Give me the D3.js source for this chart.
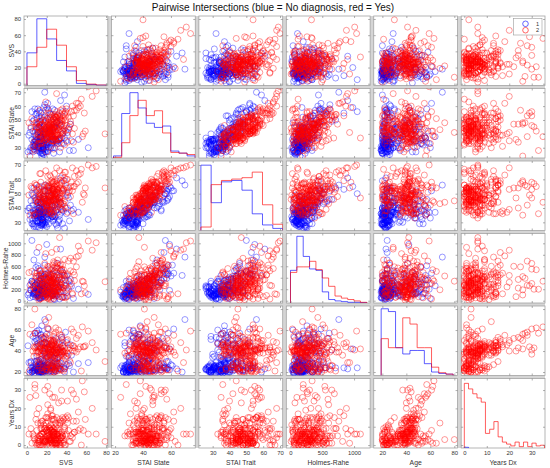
<!DOCTYPE html>
<html><head><meta charset="utf-8">
<script src="https://cdn.jsdelivr.net/npm/d3@7"></script>
<style>body{margin:0;background:#fff;}svg{display:block;font-family:"Liberation Sans",Arial,Helvetica,sans-serif;}</style>
</head><body><svg id="c" width="550" height="468"></svg>
<script>
const titleText = "Pairwise Intersections (blue = No diagnosis, red = Yes)";
const varNames = ["SVS","STAI State","STAI Trait","Holmes-Rahe","Age","Years Dx"];
const groupLabels = ["1","2"];
const xDomains = [[-3,81.8],[17.4,77.4],[21.8,71.6],[-66,1253],[12.8,82.7],[-1.4,35.9]];
const yDomains = [[-2.2,83.7],[22.6,72.7],[24.3,72.8],[-40,1171],[16.7,82.9],[-1.6,36.3]];
const xTicks = [[0,20,40,60,80],[20,40,60],[30,40,50,60,70],[0,500,1000],[20,40,60,80],[0,10,20,30]];
const yTicks = [[0,20,40,60,80],[30,40,50,60,70],[30,40,50,60,70],[0,200,400,600,800,1000],[20,40,60,80],[0,10,20,30]];

// diagonal histograms (relative bar heights)
const svsEdges = [0,10,20,30,40,50,60,70,80];
const svsHistBlue = [47,96,67,36,21,3,1.5,0.5];
const svsHistRed = [27,55,81,58,27,7,2,0.7];
const stateEdges = [18.9,24.75,30.6,36.45,42.3,48.15,54,59.85,65.7,71.55,77.4];
const stateHistBlue = [3,64,94,72,50,44,46,10,7,3];
const stateHistRed = [1,22,61,83,61,68,36,8,7,5];
const traitEdges = [23,29.1,35.2,41.3,47.4,53.5,59.6,65.7,71.6];
const traitHistBlue = [94,40,70,72,58,24,8,3];
const traitHistRed = [5,66,72,74,76,84,37,9];
const hrEdges = [0,100,200,300,400,500,600,700,800,900,1000,1100,1200];
const hrHistBlue = [47,96,67,49,47,16,5,3,2,1,1,0.5];
const hrHistRed = [44,52,52,60,48,36,24,10,7,5,3,1];
const ageEdges = [19,25,31,37,43,49,55,61,67,73,79];
const ageHistBlue = [96,92,40,31,36,36,17,5,3,2];
const ageHistRed = [53,40,40,83,74,40,40,12,4,2];
const yrsEdges = [0,1.88,3.76,5.64,7.52,9.4,11.28,13.16,15.04,16.92,18.8,20.68,22.56,24.44,26.32,28.2,30.08,31.96,33.84,35.72];
const yrsHistBlue = [1];
const yrsHistRed = [93,85,78,72,66,21,27,38,16,8.5,5.6,3,8.5,2,8.5,2,7,3,4];

// group 1 (blue, no diagnosis)
const blueSVS = [15,20,41,5,18,22,12,35,9,28,
16,33,13,14,2,11,25,17,30,8,
27,15,36,10,13,19,44,6,12,21,
38,7,19,16,4,18,29,12,11,24,
13,17,47,11,31,14,3,26,15,20,
16,32,10,8,14,26,12,18,22,6,
9,28,13,19,1,24,14,12,39,16,
18,10,29,17,22,11,5,21,62,38,
20,25,3,15,7,12,23,40,14,16,
52,14,24,12,30,15,19,8,17,11,
21,30,15,9,13,27,16,18,34,4,
7,43,11,19,10,13,35,12,26,15,
14,11,32,22,16,9,20,13,33,18,
16,10,37,14,17,21,6,45,12,23,
31,17,19,12,25,15,28,18,8,14,
12,26,18,7,33,15,21,9,24,17,
19,5,28,14,11,36,16,23,13,20,
8,17,22,31,14,27,12,19,40,10,
25,13,6,18,29,21,15,34,11,16,
14,22,30,9,17,12,26,20,8,42];
const blueState = [28,34,41,36,52,30,45,33,38,57,
31,27,35,44,39,58,32,29,48,36,
26,33,40,55,35,30,47,42,34,62,
37,29,32,50,44,27,36,56,31,39,
34,45,28,33,53,38,41,30,35,59,
26,36,43,31,49,34,28,40,57,32,
35,30,46,38,27,54,33,37,42,29,
32,51,36,25,39,34,56,45,30,68,
40,33,28,37,50,31,44,35,55,26,
36,42,30,47,34,38,29,58,33,41,
27,35,52,32,39,45,31,36,64,30,
34,28,40,57,33,48,37,30,43,24,
38,31,35,46,29,54,32,41,36,70,
30,44,33,37,59,28,49,35,31,42,
33,39,27,53,36,30,45,61,34,38,
29,36,42,31,47,26,34,39,52,33,
35,28,44,38,30,56,32,41,27,37,
31,40,34,49,29,36,45,33,60,28,
38,30,27,43,35,51,31,46,36,40,
26,33,48,35,41,30,58,37,32,44];
const blueTrait = [32,27,49,29,52,35,35,39,39,50,
29,32,37,41,40,46,37,28,48,33,
35,29,29,53,30,35,42,42,38,52,
26,36,37,40,45,29,34,55,36,39,
35,43,39,31,39,38,40,34,28,55,
30,31,42,37,47,34,36,40,52,29,
27,34,44,38,38,44,36,40,40,30,
37,41,29,31,44,37,50,44,32,59,
34,34,32,32,54,40,36,36,44,30,
37,34,33,48,28,37,36,47,34,33,
32,39,43,35,37,45,33,30,61,37,
28,31,44,45,37,40,37,40,34,28,
42,36,30,48,31,45,38,37,35,56,
32,35,38,35,48,36,49,38,36,39,
26,41,33,38,41,33,42,52,36,43,
34,31,47,27,44,29,39,35,48,38,
30,33,40,44,27,50,36,38,31,41,
36,37,29,46,33,32,49,28,54,31,
42,26,31,39,38,45,35,43,30,36,
28,37,44,31,46,33,53,40,29,47];
const blueHR = [120,250,80,340,460,150,190,60,280,520,
170,30,210,390,130,610,90,240,450,160,
110,300,180,840,50,140,370,220,100,480,
260,140,70,410,190,120,330,560,150,230,
180,430,40,200,350,130,270,110,160,980,
90,210,310,140,470,170,60,250,390,120,
150,20,280,180,100,540,130,200,360,170,
230,320,140,80,420,190,1050,260,110,440,
160,120,50,300,710,180,240,140,390,70,
200,150,330,170,90,260,130,480,210,120,
140,280,190,60,350,160,220,100,900,180,
110,250,130,460,200,40,300,170,380,150,
190,90,230,140,270,580,120,340,160,760,
130,210,70,440,180,150,320,250,100,190,
240,160,120,360,140,200,80,620,270,170,
180,90,270,130,420,60,240,150,310,200,
110,340,160,50,230,500,140,190,80,370,
260,120,200,650,170,30,290,140,430,100,
150,210,70,380,120,250,180,520,90,160,
230,140,310,100,190,40,460,270,130,350];
const blueAge = [22,24,35,20,48,27,21,53,23,30,
19,26,44,22,29,57,21,25,38,23,
20,28,51,24,22,33,46,21,27,61,
23,19,25,40,30,22,52,24,21,36,
26,47,20,23,28,55,22,34,25,42,
21,24,30,49,22,26,19,39,23,54,
25,22,28,21,45,24,32,20,58,27,
23,50,21,26,35,22,24,43,29,20,
22,27,19,53,24,31,21,48,25,23,
28,20,41,22,26,64,23,30,21,47,
24,33,22,27,20,50,25,37,23,29,
21,26,45,23,59,22,28,20,39,24,
27,22,34,21,25,52,23,29,46,70,
20,31,24,56,22,27,21,36,25,44,
23,25,48,22,29,21,33,26,57,24,
21,25,38,22,29,20,47,23,26,52,
24,20,33,27,22,45,21,28,23,56,
22,30,20,41,25,23,51,21,27,35,
26,22,24,48,21,29,20,39,22,31,
20,23,43,25,21,60,24,34,22,28];

// group 2 (red, diagnosis)
const redSVS = [14,28,37,22,11,50,79,33,26,18,
19,31,8,18,27,4,21,50,35,24,
29,15,23,33,56,38,6,42,26,20,
30,24,36,58,13,28,25,66,9,32,
46,22,16,27,10,34,30,19,28,24,
21,18,39,14,8,31,26,7,36,70,
33,20,12,27,29,23,52,17,38,2,
11,26,35,22,16,41,28,25,48,19,
37,24,13,30,21,57,8,26,15,33,
18,29,23,34,12,27,40,22,5,31,
32,17,25,20,44,28,14,23,30,59,
26,21,29,35,24,13,16,39,27,19,
31,10,22,18,28,43,24,33,20,9,
15,34,27,25,37,21,29,30,47,14,
36,23,26,16,19,32,30,11,25,62,
28,20,34,22,13,41,25,17,27,35,
24,30,9,28,21,33,15,38,23,26,
42,27,18,31,25,12,46,22,34,20,
19,36,29,3,31,24,27,55,23,14,
25,18,33,29,21,12,38,27,44,20,
31,23,16,40,26,35,19,10,28,47,
22,34,20,13,52,27,30,24,36,7,
17,41,28,23,15,32,26,21,45,29,
12,27,39,24,30,19,14,35,22,54,
33,21,26,48,16,24,37,29,11,25];
const redState = [42,38,51,46,33,57,40,48,35,44,
49,36,41,53,29,45,39,62,43,50,
34,47,40,55,38,44,31,52,42,37,
46,41,58,55,49,43,39,67,45,33,
40,52,37,44,48,30,56,41,47,38,
43,35,50,39,45,54,42,34,49,71,
37,46,41,51,36,43,59,40,32,48,
45,39,53,42,47,34,50,38,44,63,
41,49,36,45,55,40,28,52,43,37,
48,42,38,57,44,35,46,41,51,39,
36,50,43,40,47,53,33,45,69,42,
44,38,52,46,31,49,41,56,37,43,
39,47,42,35,54,45,40,50,27,48,
46,41,37,53,43,58,39,44,34,51,
42,55,48,38,45,36,52,40,47,74,
35,43,50,41,57,39,46,33,44,49,
47,40,36,52,42,48,30,54,45,38,
43,51,39,46,35,41,60,48,37,44,
50,42,45,24,53,40,47,65,38,46,
44,37,52,41,47,33,55,40,49,36,
39,46,42,58,35,50,43,31,45,53,
48,41,36,44,62,38,51,45,40,29,
42,55,39,47,34,43,50,37,56,46,
36,45,53,40,49,42,33,47,44,60,
51,38,43,57,41,35,46,52,39,44];
const redTrait = [53,35,59,37,44,57,54,47,42,46,
46,49,45,53,38,55,38,66,42,62,
46,46,42,66,44,45,38,51,52,36,
46,49,63,49,50,55,42,68,51,42,
52,52,48,53,46,40,59,38,59,45,
42,44,48,49,57,53,48,35,52,69,
45,45,53,52,43,54,58,52,41,49,
44,50,53,54,48,40,58,36,55,66,
53,51,47,44,62,50,36,46,45,47,
46,50,42,59,46,46,51,56,54,41,
47,49,54,45,48,55,44,45,68,54,
53,46,51,47,38,48,50,65,46,43,
37,56,44,46,64,52,37,51,41,56,
55,39,48,59,43,57,45,57,36,64,
39,63,58,38,56,43,54,52,49,70,
49,42,48,55,64,37,57,47,41,58,
45,51,48,53,55,56,33,65,47,50,
54,47,46,60,36,54,68,44,44,42,
52,52,46,35,53,50,58,67,37,58,
49,43,50,47,54,38,61,37,55,44,
46,49,51,60,39,57,42,36,52,55,
55,44,42,51,63,45,53,48,43,35,
41,60,46,49,40,52,57,44,58,48,
42,53,56,47,51,45,37,54,50,64,
54,46,40,62,48,39,53,56,44,51];
const redHR = [320,150,480,60,270,590,330,410,90,220,
530,180,340,650,40,290,120,760,380,450,
210,370,80,560,340,430,250,690,310,170,
400,20,620,260,510,110,350,880,190,300,
130,470,240,360,70,280,580,160,420,330,
250,390,50,520,200,710,140,300,450,1010,
360,100,440,230,600,170,950,280,60,490,
180,310,540,30,380,220,660,120,350,820,
440,260,150,570,90,330,200,480,290,1100,
380,130,270,630,10,420,190,350,510,240,
70,290,460,160,740,310,230,400,900,140,
340,210,80,550,370,120,470,260,680,190,
280,430,170,50,520,330,240,610,110,390,
460,150,300,840,220,40,370,180,500,270,
230,560,100,320,410,190,650,80,350,1040,
160,390,270,590,30,450,210,340,130,480,
310,90,420,250,540,170,380,720,60,290,
200,490,140,360,270,930,110,430,240,320,
410,60,300,190,570,260,350,120,460,220,
290,140,450,220,600,80,370,190,520,260,
170,410,330,70,560,240,120,480,300,690,
360,220,100,530,780,150,280,430,60,240,
120,470,250,340,40,390,620,210,300,150,
430,190,310,90,500,270,160,370,230,870,
240,60,380,450,180,320,540,110,280,420];
const redAge = [38,22,45,41,29,52,30,36,24,43,
47,33,80,41,40,26,44,39,55,31,
42,21,37,49,63,23,40,46,28,35,
24,44,39,44,32,41,22,48,38,60,
45,27,53,20,40,36,43,23,50,39,
34,42,25,47,43,21,38,44,30,41,
56,23,40,35,46,28,42,52,37,20,
39,45,22,61,33,43,26,48,40,36,
21,50,41,38,27,44,57,24,46,42,
43,30,55,22,39,47,35,41,65,25,
40,48,23,36,43,20,52,38,29,45,
26,42,58,37,24,45,40,33,49,68,
44,21,39,54,41,31,46,23,38,57,
35,43,28,47,40,22,62,39,45,32,
48,24,42,37,53,41,26,44,36,59,
22,46,39,30,43,51,25,40,56,38,
41,27,44,35,62,23,47,39,31,50,
37,54,20,42,46,29,40,72,43,25,
45,39,24,56,33,41,48,21,37,43,
40,25,47,36,52,22,43,38,29,45,
33,44,21,50,39,41,27,46,36,58,
42,30,47,24,55,37,44,20,40,35,
46,38,23,43,41,28,49,35,61,39,
27,45,40,34,48,22,42,53,37,44,
39,31,46,43,24,50,36,41,26,47];
const redYrs = [5,7,14,1,3,25,2,11,4,9,
2,6,3,30,7,9,17,13,4,4,
1,6,9,3,35,10,6,15,3,8,
0,11,5,29,2,14,8,20,1,2,
6,4,1,5,8,12,15,2,26,3,
7,2,5,9,31,9,14,4,15,6,
5,3,20,5,12,2,8,2,0,6,
4,9,4,8,6,24,5,14,7,2,
2,3,5,1,13,8,33,7,13,6,
9,0,28,4,2,7,6,15,1,11,
23,11,1,8,5,3,6,4,6,14,
1,7,3,30,8,5,13,0,9,12,
6,0,3,2,8,2,19,1,5,27,
4,2,7,16,1,7,1,6,13,0,
5,9,26,3,15,7,1,12,4,6,
1,8,0,5,3,16,10,7,2,6,
2,4,14,1,32,0,6,9,3,0,
8,5,2,3,7,1,4,3,13,0,
9,1,3,26,5,2,14,0,6,12,
3,1,12,6,22,0,8,4,2,15,
5,9,2,14,1,7,3,17,6,28,
10,4,1,0,18,6,2,3,13,5,
7,12,2,4,9,1,16,5,30,3,
2,6,15,8,1,3,11,24,4,9,
14,2,5,7,0,20,3,10,1,8];

const groups = [
  {vals:[blueSVS,blueState,blueTrait,blueHR,blueAge,null], color:"#0000ff"},
  {vals:[redSVS,redState,redTrait,redHR,redAge,redYrs], color:"#ff0000"}
];
const hists = [
  {edges:svsEdges, h:[svsHistBlue, svsHistRed]},
  {edges:stateEdges, h:[stateHistBlue, stateHistRed]},
  {edges:traitEdges, h:[traitHistBlue, traitHistRed]},
  {edges:hrEdges, h:[hrHistBlue, hrHistRed]},
  {edges:ageEdges, h:[ageHistBlue, ageHistRed]},
  {edges:yrsEdges, h:[yrsHistBlue, yrsHistRed]}
];

const W=550,H=468;
const gridL=24, gridR=545, gridT=16, gridB=448, gapX=3.6, gapY=3;
const pw=(gridR-gridL-5*gapX)/6, ph=(gridB-gridT-5*gapY)/6;
const svg=d3.select("#c");
svg.append("rect").attr("width",W).attr("height",H).attr("fill","#fff");
svg.append("rect").attr("x",gridL).attr("y",gridT).attr("width",gridR-gridL).attr("height",gridB-gridT).attr("fill","#d5d5d5");
const defs=svg.append("defs");
const textCol="#333";

function styleAxis(g){
  g.select(".domain").remove();
  g.selectAll("line").attr("stroke","#7a7a7a").attr("stroke-width",0.6);
  g.selectAll("text").attr("fill",textCol).attr("font-size",5.9);
  g.attr("font-family",null).attr("font-size",null);
}

for(let i=0;i<6;i++){
  for(let j=0;j<6;j++){
    const x0=gridL+j*(pw+gapX), y0=gridT+i*(ph+gapY);
    const x=d3.scaleLinear().domain(xDomains[j]).range([x0,x0+pw]);
    const y=d3.scaleLinear().domain(yDomains[i]).range([y0+ph,y0]);
    svg.append("rect").attr("x",x0).attr("y",y0).attr("width",pw).attr("height",ph)
      .attr("fill","#fff").attr("stroke","#a3a3a3").attr("stroke-width",0.8);
    const cid="cp"+i+"_"+j;
    defs.append("clipPath").attr("id",cid).append("rect").attr("x",x0).attr("y",y0).attr("width",pw).attr("height",ph);
    const g=svg.append("g").attr("clip-path","url(#"+cid+")");
    if(i===j){
      const hy=d3.scaleLinear().domain([0,100]).range([y0+ph,y0]);
      const e=hists[j].edges;
      hists[j].h.forEach((hv,gi)=>{
        const pts=[[e[0],0]];
        hv.forEach((v,k)=>{pts.push([e[k],v]);pts.push([e[k+1],v]);});
        pts.push([e[hv.length],0]);
        const line=d3.line().x(d=>x(d[0])).y(d=>hy(d[1]));
        g.append("path").attr("d",line(pts)).attr("fill","none")
          .attr("stroke",groups[gi].color).attr("stroke-width",0.9).attr("stroke-opacity",0.7);
      });
    } else {
      groups.forEach(gr=>{
        const xs=gr.vals[j], ys=gr.vals[i];
        if(!xs||!ys) return;
        const pts=xs.map((v,k)=>[v,ys[k]]);
        g.selectAll(null).data(pts).enter().append("circle")
          .attr("cx",d=>x(d[0])).attr("cy",d=>y(d[1])).attr("r",3.0)
          .attr("fill","none").attr("stroke",gr.color).attr("stroke-width",0.5).attr("stroke-opacity",0.8);
      });
    }
    const ab=svg.append("g").attr("transform",`translate(0,${y0+ph})`)
      .call(d3.axisBottom(x).tickValues(xTicks[j]).tickSize(-2).tickPadding(2.4).tickFormat(i===5?d3.format("d"):()=>""));
    styleAxis(ab);
    const at=svg.append("g").attr("transform",`translate(0,${y0})`)
      .call(d3.axisTop(x).tickValues(xTicks[j]).tickSize(-2).tickFormat(()=>""));
    styleAxis(at);
    const al=svg.append("g").attr("transform",`translate(${x0},0)`)
      .call(d3.axisLeft(y).tickValues(yTicks[i]).tickSize(-2).tickPadding(3).tickFormat(j===0?d3.format("d"):()=>""));
    styleAxis(al);
    const ar=svg.append("g").attr("transform",`translate(${x0+pw},0)`)
      .call(d3.axisRight(y).tickValues(yTicks[i]).tickSize(-2).tickFormat(()=>""));
    styleAxis(ar);
    if(i===5){
      svg.append("text").attr("x",x0+pw/2).attr("y",464.5).attr("text-anchor","middle")
        .attr("font-size",6.8).attr("fill",textCol).text(varNames[j]);
    }
    if(j===0){
      const lx = i===3 ? 7.5 : 13.5;
      svg.append("text").attr("transform",`translate(${lx},${y0+ph/2}) rotate(-90)`).attr("text-anchor","middle")
        .attr("font-size",6.8).attr("fill",textCol).text(varNames[i]);
    }
  }
}

// legend in top-right panel
const lg=svg.append("g");
lg.append("rect").attr("x",513.5).attr("y",18.5).attr("width",28.5).attr("height",16.5)
  .attr("fill","#fff").attr("stroke","#9a9a9a").attr("stroke-width",0.6);
groups.forEach((gr,k)=>{
  const yy=23.8+k*6.4;
  lg.append("circle").attr("cx",525.5).attr("cy",yy).attr("r",2.8).attr("fill","none")
    .attr("stroke",gr.color).attr("stroke-width",0.6);
  lg.append("text").attr("x",537.5).attr("y",yy+2).attr("text-anchor","middle")
    .attr("font-size",5.6).attr("fill",textCol).text(groupLabels[k]);
});

svg.append("text").attr("x",273).attr("y",10.5).attr("text-anchor","middle")
  .attr("font-size",10).attr("fill","#111").text(titleText);
</script></body></html>
